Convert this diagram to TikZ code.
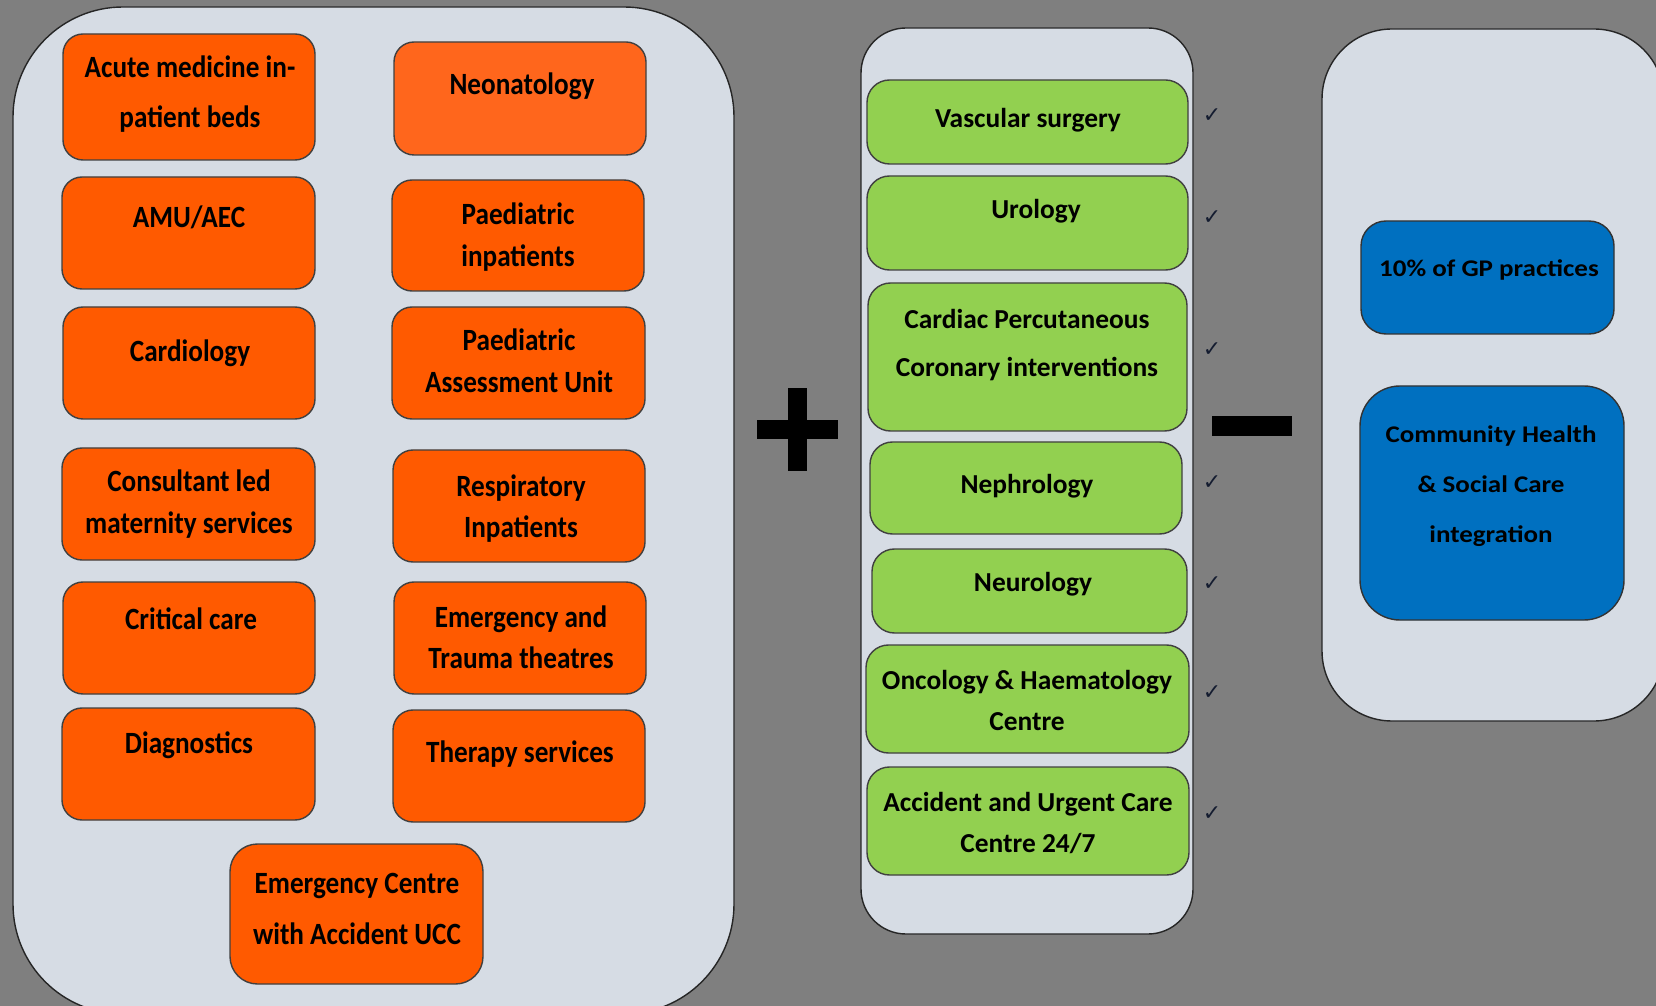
\documentclass[tikz,border=0pt]{standalone}
\usepackage{fontspec}
\setmainfont{Carlito}
\newfontfamily\ofont[FakeStretch=0.88]{Carlito}
\newfontfamily\bfont[FakeStretch=1.13]{Carlito}
\newfontfamily\symfont{DejaVu Sans}
\definecolor{bgcol}{HTML}{7F7F7F}
\definecolor{panelcol}{HTML}{D6DCE4}
\definecolor{orangecol}{HTML}{FF5A00}
\definecolor{neocol}{HTML}{FF661C}
\definecolor{greencol}{HTML}{92D050}
\definecolor{bluecol}{HTML}{0070C0}
\definecolor{tickcol}{HTML}{141C30}
\tikzset{
  panel/.style={draw=black!85, fill=panelcol, line width=0.8pt},
  obox/.style={draw=black!75, fill=orangecol, line width=0.8pt, rounded corners=0.4cm},
  gbox/.style={draw=black!75, fill=greencol, line width=0.8pt, rounded corners=0.45cm},
  bbox/.style={draw=black!80, fill=bluecol, line width=0.8pt, rounded corners=0.5cm},
  otxt/.style={anchor=north, inner sep=0pt, align=center, font=\ofont\bfseries\fontsize{17.6}{23.8}\selectfont},
  gtxt/.style={anchor=north, inner sep=0pt, align=center, font=\bfseries\fontsize{15.6}{23.4}\selectfont},
  btxt/.style={anchor=north, inner sep=0pt, align=center, font=\bfont\bfseries\fontsize{13.6}{28.7}\selectfont},
  tick/.style={inner sep=0pt, text=tickcol, font=\symfont\fontsize{12.5}{12.5}\selectfont}
}
\begin{document}
\begin{tikzpicture}[x=0.02cm,y=-0.02cm]
\useasboundingbox (0,0) rectangle (1656,1006);
\fill[bgcol] (0,0) rectangle (1656,1006);
\begin{scope}
\clip (0,0) rectangle (1656,1006);
% panels
\draw[panel, rounded corners=2.2cm] (13,7) rectangle (734,1014);
\draw[panel, rounded corners=0.9cm] (861,28) rectangle (1193,934);
\draw[panel, rounded corners=1.4cm] (1322,29) rectangle (1664,721);

% left panel
\draw[obox] (63,34) rectangle (315,160);
\node[otxt] (acute) at (190,55.8) {Acute medicine in-\\[4.3pt]patient beds};
\draw[obox, fill=neocol] (394,42) rectangle (646,155);
\node[otxt] (neo) at (522,72.7) {Neonatology};
\draw[obox] (62,177) rectangle (315,289);
\node[otxt] (amu) at (189,205.8) {AMU/AEC};
\draw[obox] (392,180) rectangle (644,291);
\node[otxt] (paedinp) at (518,202.6) {Paediatric\\inpatients};
\draw[obox] (63,307) rectangle (315,419);
\node[otxt] (cardio) at (190,339.9) {Cardiology};
\draw[obox] (392,307) rectangle (645,419);
\node[otxt] (pau) at (519,328.2) {Paediatric\\Assessment Unit};
\draw[obox] (62,448) rectangle (315,560);
\node[otxt] (matern) at (189,469.8) {Consultant led\\maternity services};
\draw[obox] (393,450) rectangle (645,562);
\node[otxt] (resp) at (521,474) {Respiratory\\Inpatients};
\draw[obox] (63,582) rectangle (315,694);
\node[otxt] (critical) at (191,607.1) {Critical care};
\draw[obox] (394,582) rectangle (646,694);
\node[otxt] (theatres) at (521,605) {Emergency and\\Trauma theatres};
\draw[obox] (62,708) rectangle (315,820);
\node[otxt] (diag) at (189,731.7) {Diagnostics};
\draw[obox] (393,710) rectangle (645,822);
\node[otxt] (therapy) at (520,740.1) {Therapy services};
\draw[obox, rounded corners=0.55cm] (230,844) rectangle (483,984);
\node[otxt] (emerg) at (357,873.2) {Emergency Centre\\[4.9pt]with Accident UCC};

% plus and minus
\fill[black] (757,420) rectangle (838,439);
\fill[black] (788,388) rectangle (807,471);
\fill[black] (1212,416) rectangle (1292,436);

% middle panel
\draw[gbox] (867,80) rectangle (1188,164);
\node[gtxt] (vasc) at (1028,107.8) {Vascular surgery};
\draw[gbox] (867,176) rectangle (1188,270);
\node[gtxt] (uro) at (1036,198.6) {Urology};
\draw[gbox] (868,283) rectangle (1187,431);
\node[gtxt] (pci) at (1027,308.5) {Cardiac Percutaneous\\[4.2pt]Coronary interventions};
\draw[gbox] (870,442) rectangle (1182,534);
\node[gtxt] (nephro) at (1027,474.2) {Nephrology};
\draw[gbox] (872,549) rectangle (1187,633);
\node[gtxt] (neuro) at (1033,571.5) {Neurology};
\draw[gbox] (866,645) rectangle (1189,753);
\node[gtxt] (onco) at (1027,669.5) {Oncology \& Haematology\\Centre};
\draw[gbox] (867,767) rectangle (1189,875);
\node[gtxt] (aucc) at (1028,792.1) {Accident and Urgent Care\\Centre 24/7};
\foreach \y [count=\i] in {116,218,350,483,584,693,814}
  \node[tick] (tick\i) at (1212,\y) {✓};

% right panel
\draw[bbox] (1361,221) rectangle (1614,334);
\node[btxt] (gp) at (1489,259.3) {10\% of GP practices};
\draw[bbox, rounded corners=0.8cm] (1360,386) rectangle (1624,620);
\node[btxt] (chsc) at (1491,425) {Community Health\\\& Social Care\\integration};
\end{scope}
\end{tikzpicture}
\end{document}
